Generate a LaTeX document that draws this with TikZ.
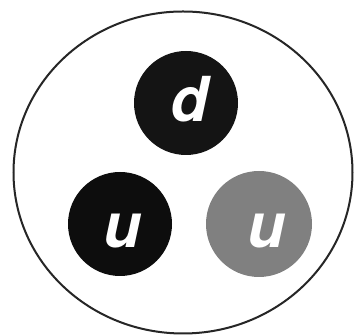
\documentclass[tikz,border=0pt]{standalone}
\usepackage{fontspec}
\setsansfont{TeX Gyre Heros}
\usetikzlibrary{shapes.geometric}
\begin{document}
\begin{tikzpicture}[x=1pt,y=1pt,
  quark/.style={circle,inner sep=0pt,minimum size=#1},
  letter/.style={text=white,font=\sffamily\bfseries\itshape\fontsize{62}{62}\selectfont,inner sep=0pt,anchor=base}]
\useasboundingbox (0,0) rectangle (354,336);
\fill[white] (0,0) rectangle (354,336);
\node[draw=black!85,line width=2pt,ellipse,inner sep=0pt,minimum width=339pt,minimum height=322pt] (proton) at (183,163.5) {};
\node[quark=104pt,fill=black!92] (d) at (186,233) {};
\node[quark=104pt,fill=black!95] (u1) at (120,112) {};
\node[quark=106pt,fill=black!50] (u2) at (259,112) {};
\node[letter] (dl) at (189,214) {d};
\node[letter] (ul1) at (122,88) {u};
\node[letter] (ul2) at (266,88) {u};
\end{tikzpicture}
\end{document}
